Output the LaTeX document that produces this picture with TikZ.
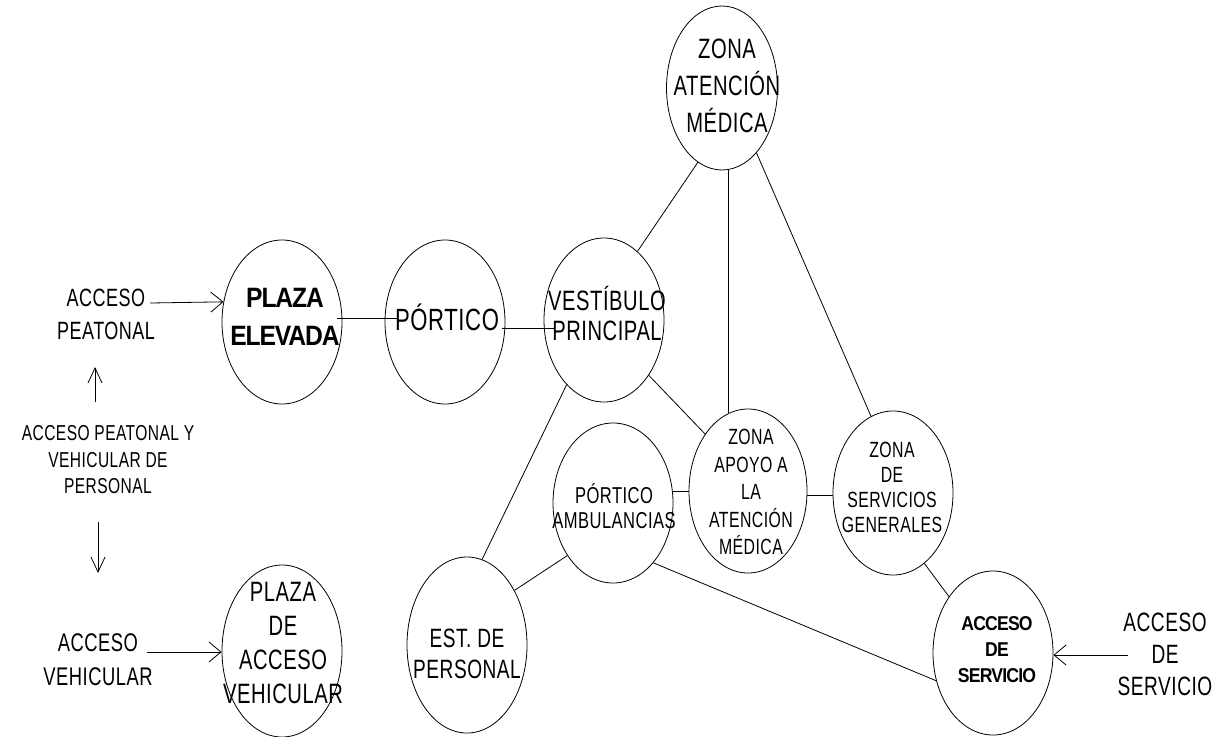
\documentclass[tikz,border=0pt]{standalone}
\usepackage{fontspec}
\usetikzlibrary{shapes.geometric,arrows.meta,calc}
\newfontfamily\cad{Liberation Sans}[FakeStretch=0.72,LetterSpace=2]
\newfontfamily\cadb{Liberation Sans}[FakeStretch=0.88,LetterSpace=-4]
\newcommand\tsz[2]{\fontsize{#1pt}{#2pt}\selectfont}
\begin{document}
\begin{tikzpicture}[x=1pt,y=-1pt,
  zone/.style={draw, ellipse, line width=0.8pt, inner sep=0pt, minimum width=120pt, minimum height=164pt},
  lbl/.style={inner sep=0pt, align=center},
  link/.style={line width=0.8pt},
  harr/.style={line width=0.8pt, -{Straight Barb[length=12pt,width=20pt]}},
  varr/.style={line width=0.8pt, -{Straight Barb[length=15pt,width=14pt]}}]
\useasboundingbox (0,0) rectangle (1214,736);
\fill[white] (0,0) rectangle (1214,736);

% ellipses
\node[zone] (pe) at (282,322) {};
\node[zone] (po) at (445,322) {};
\node[zone] (vp) at (604,320) {};
\node[zone, minimum width=111pt] (zam) at (722,88) {};
\node[zone, minimum width=118pt] (za) at (748,491) {};
\node[zone] (zs) at (893,493) {};
\node[zone, minimum height=160pt] (pa) at (613,503) {};
\node[zone] (as) at (993,653) {};
\node[zone, minimum height=172pt] (pv) at (282,651) {};
\node[zone, minimum height=176pt] (ep) at (467,645) {};

% texts inside
\node[lbl, font={\cadb\bfseries\tsz{28}{38}}] (pet) at (285,317) {PLAZA\\ELEVADA};
\node[lbl, font={\cad\tsz{30.7}{34}}] (pot) at (447,317) {PÓRTICO};
\node[lbl, font={\cad\tsz{28}{30}}] (vpt) at (607,313) {VESTÍBULO\\PRINCIPAL};
\node[lbl, font={\cad\tsz{28}{37}}] (zamt) at (727,86) {ZONA\\ATENCIÓN\\MÉDICA};
\node[lbl, font={\cad\tsz{22}{27.5}}] (zat) at (751,492) {ZONA\\APOYO A\\LA\\ATENCIÓN\\MÉDICA};
\node[lbl, font={\cad\tsz{22}{25}}] (zst) at (892,487) {ZONA\\DE\\SERVICIOS\\GENERALES};
\node[lbl, font={\cad\tsz{23}{25}}] (pat) at (614,506) {PÓRTICO\\AMBULANCIAS};
\node[lbl, font={\cad\tsz{28}{33.7}}] (pvt) at (283,643) {PLAZA\\DE\\ACCESO\\VEHICULAR};
\node[lbl, font={\cad\tsz{26.5}{31}}] (ept) at (467,654) {EST. DE\\PERSONAL};
\node[lbl, font={\cadb\bfseries\tsz{20}{26}}] (ast) at (997,650) {ACCESO\\DE\\SERVICIO};

% outside labels
\node[lbl, font={\cad\tsz{25}{33}}] (apeat) at (106,314) {ACCESO\\PEATONAL};
\node[lbl, font={\cad\tsz{21.6}{26.5}}] (apyv) at (108,460) {ACCESO PEATONAL Y\\VEHICULAR DE\\PERSONAL};
\node[lbl, font={\cad\tsz{25.5}{34}}] (aveh) at (98,660) {ACCESO\\VEHICULAR};
\node[lbl, font={\cad\tsz{26.5}{32}}] (aserv) at (1165,654) {ACCESO\\DE\\SERVICIO};

% arrow start points
\coordinate (peS) at (150,303);
\coordinate (vehS) at (147,652);
\coordinate (servS) at (1128,655);
\coordinate (upS) at (95,402);
\coordinate (upE) at (95,367);
\coordinate (dnS) at (98,522);
\coordinate (dnE) at (98,573);

% arrows
\draw[harr] (peS) -- (pe.161.7);
\draw[harr] (vehS) -- (vehS -| pv.west);
\draw[harr] (servS) -- (servS -| as.east);
\draw[varr] (upS) -- (upE);
\draw[varr] (dnS) -- (dnE);

% connectors
\draw[link] ([xshift=-5pt,yshift=4pt]pe.east) -- ([xshift=12pt,yshift=4pt]po.west);
\draw[link] ([xshift=-3pt,yshift=-6pt]po.east) -- ([xshift=11pt,yshift=-8pt]vp.west);
\draw[link] (vp.64.8) -- (zam.252);
\draw[link] (za.104.6) -- (za.104.6 |- zam.south);
\draw[link] (zam.298.4) -- (zs.106.1);
\draw[link] (vp.-51.3) -- (za.127);
\draw[link] (vp.240.4) -- (ep.80);
\draw[link] (pa.11) -- (pa.11 -| za.west);
\draw[link] ([yshift=-4pt]za.east) -- ([yshift=-4pt]za.east -| zs.west);
\draw[link] (pa.229.6) -- (ep.49.5);
\draw[link] (pa.304) -- (as.206.6);
\draw[link] (zs.294.3) -- (as.128);
\end{tikzpicture}
\end{document}
